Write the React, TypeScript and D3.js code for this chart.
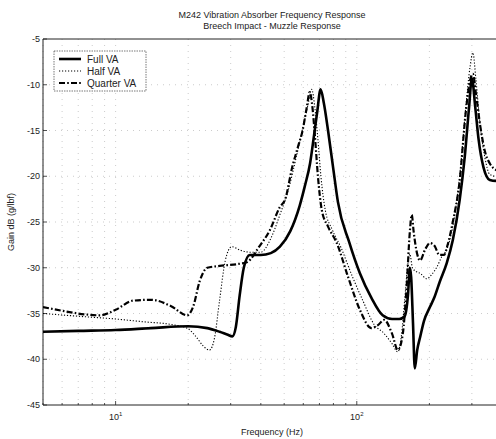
import React from "react";
import * as d3 from "d3";

const fullFreq = [5, 7, 10, 14, 20, 24, 27, 29, 30.5, 31.5, 32.7, 34, 36, 40, 44, 48, 53, 58, 61, 64, 66.5, 68.5, 70.8, 73, 76, 80, 83.5, 93, 103, 115, 128, 140, 150, 158, 163, 166, 168, 171, 174, 178, 183, 190, 201, 210, 221, 236, 250, 267, 280, 292, 300, 310, 320, 335, 356, 377, 400];
const fullGain = [-37, -36.9, -36.8, -36.6, -36.4, -36.6, -37, -37.3, -37.5, -36.5, -33, -30, -28.6, -28.6, -28.4, -27.7, -26, -23.2, -21, -18.6, -15.5, -13, -10.5, -12, -15, -19.3, -22.8, -27.2, -30.6, -33.3, -35.2, -35.6, -35.6, -35.3, -33, -30, -31, -36, -41, -39, -37.6, -35.8, -34.3, -33.2, -31.5, -29.5, -27, -22.6, -18, -12.5, -9.3, -12.5, -16, -19, -20.4, -20.5, -20.2];

const halfFreq = [5, 7, 10, 13, 17, 19.8, 21.5, 23, 24.5, 25.7, 27, 28.5, 30.3, 33, 36, 40, 44, 48, 52, 56, 60, 63, 65, 67, 69, 71, 74, 79, 86, 96, 106, 118, 130, 140, 148, 153, 158, 163, 166, 170, 176, 183, 195, 205, 215, 225, 236, 250, 267, 283, 295, 303, 312, 325, 340, 356, 377, 400];
const halfGain = [-35, -35.3, -35.6, -35.9, -36.2, -36.6, -37.5, -38.5, -39, -37.7, -33.5, -29.2, -27.7, -28.1, -28.3, -28.3, -26.8, -24.2, -21.5, -18, -14.5, -12, -10.5, -12.5, -16, -20, -23.7, -25.8, -27.8, -31, -33.6, -36.2, -37.2, -38.3, -39.2, -37.5, -33.5, -29.5, -28.5, -30, -30.4, -30.6, -31.2, -30.7, -29.9, -28.8, -28, -25.5, -20, -12.5, -8, -6.5, -9.5, -14.5, -18, -19.8, -20, -19.8];

const quarterFreq = [5, 6, 7.5, 8.6, 10, 11.8, 14, 17, 19.8, 21, 22.3, 24, 27, 32, 35, 39.6, 43.6, 47.9, 50.5, 54, 57, 59.6, 62, 63.8, 65.5, 67, 69, 71.6, 76, 82.6, 92, 103, 115, 122, 130, 140, 148, 155, 161, 166, 169, 172, 178, 183, 192, 201, 210, 220, 230, 238, 250, 267, 283, 295, 303, 312, 325, 340, 356, 377, 400];
const quarterGain = [-34.3, -34.7, -35.1, -35.2, -34.6, -33.6, -33.5, -34.2, -35.2, -34.2, -31.5, -30, -29.8, -29.6, -29.4, -27.6, -25.9, -23.4, -22.5, -19, -16.8, -15, -12.5, -10.8, -12.5, -15.5, -20, -23.7, -25.5, -27.3, -31, -34.6, -36.6, -36.3, -35.7, -37.2, -39, -37.3, -32, -26, -24.2, -26, -28.5, -29.2, -28, -27.3, -27.6, -28.6, -28.6, -27.5, -25, -20.5, -13, -9.5, -8.8, -11, -14.5, -17.3, -18.6, -19.3, -19.5];

const yTicks = [-5, -10, -15, -20, -25, -30, -35, -40, -45];
const xMajor = [10, 100];
const legendLabels = ["Full VA", "Half VA", "Quarter VA"];

const W = 496, H = 439;
const L = 43, R = 502, T = 39, B = 405;
const FONT = "'Liberation Sans', Arial, sans-serif";

export default function App() {
  const x = d3.scaleLog().domain([5, 400]).range([L, R]);
  const y = d3.scaleLinear().domain([-45, -5]).range([B, T]);

  const minor: number[] = [];
  [1, 10, 100].forEach((d) => {
    for (let k = 1; k <= 9; k++) {
      const v = d * k;
      if (v >= 5 && v <= 400) minor.push(v);
    }
  });

  const mk = (fs: number[], gs: number[]) =>
    d3.line<number>().x((_, i) => x(fs[i])).y((g) => y(g)).curve(d3.curveMonotoneX)(gs) || "";

  const series = [
    { d: mk(fullFreq, fullGain), w: 2.6, dash: undefined as string | undefined },
    { d: mk(halfFreq, halfGain), w: 1.1, dash: "1.2,1.8" },
    { d: mk(quarterFreq, quarterGain), w: 2.2, dash: "6,2.2,1.6,2.2" },
  ];

  return (
    <svg width={W} height={H} style={{ position: "absolute", left: 0, top: 0, background: "#fff" }}>
      <defs>
        <clipPath id="plot">
          <rect x={L} y={T} width={R - L} height={B - T} />
        </clipPath>
      </defs>
      <rect x={0} y={0} width={W} height={H} fill="#fff" />
      {/* grid */}
      {minor.map((v) => (
        <line key={"gx" + v} x1={x(v)} x2={x(v)} y1={T} y2={B} stroke="#aaa" strokeWidth={0.6} strokeDasharray="1,5" />
      ))}
      {yTicks.slice(1, -1).map((v) => (
        <line key={"gy" + v} x1={L} x2={R} y1={y(v)} y2={y(v)} stroke="#aaa" strokeWidth={0.6} strokeDasharray="1,5" />
      ))}
      {/* axes frame */}
      <line x1={L} x2={R} y1={T} y2={T} stroke="#222" strokeWidth={1} />
      <line x1={L} x2={R} y1={B} y2={B} stroke="#222" strokeWidth={1} />
      <line x1={L} x2={L} y1={T} y2={B} stroke="#222" strokeWidth={1} />
      {yTicks.map((v) => (
        <g key={"yt" + v}>
          <line x1={L} x2={L + 4} y1={y(v)} y2={y(v)} stroke="#222" strokeWidth={0.8} />
          <text x={L - 3} y={y(v) + 3} fontSize={9} fontFamily={FONT} textAnchor="end" fill="#222">{v}</text>
        </g>
      ))}
      {minor.map((v) => (
        <line key={"xt" + v} x1={x(v)} x2={x(v)} y1={B} y2={B - (xMajor.includes(v) ? 4 : 2)} stroke="#222" strokeWidth={0.8} />
      ))}
      {xMajor.map((v, i) => (
        <text key={"xl" + v} x={x(v)} y={B + 15} fontSize={9} fontFamily={FONT} textAnchor="middle" fill="#222">
          10<tspan dy={-4} fontSize={6}>{i + 1}</tspan>
        </text>
      ))}
      {/* series */}
      <g clipPath="url(#plot)">
        {series.map((s, i) => (
          <path key={i} d={s.d} fill="none" stroke="#000" strokeWidth={s.w} strokeDasharray={s.dash} strokeLinejoin="round" />
        ))}
      </g>
      {/* legend */}
      <rect x={54} y={51} width={92} height={40} fill="#fff" stroke="#555" strokeWidth={0.8} strokeDasharray="1.5,1" />
      {legendLabels.map((lab, i) => {
        const ly = 59 + i * 12;
        const s = series[i];
        return (
          <g key={lab}>
            <line x1={59} x2={81} y1={ly} y2={ly} stroke="#000" strokeWidth={s.w} strokeDasharray={s.dash} />
            <text x={87} y={ly + 3.5} fontSize={10} fontFamily={FONT} fill="#222">{lab}</text>
          </g>
        );
      })}
      {/* titles */}
      <text x={272} y={18} fontSize={9} fontFamily={FONT} textAnchor="middle" fill="#222">M242 Vibration Absorber Frequency Response</text>
      <text x={272} y={29} fontSize={9} fontFamily={FONT} textAnchor="middle" fill="#222">Breech Impact - Muzzle Response</text>
      <text x={272} y={435} fontSize={9} fontFamily={FONT} textAnchor="middle" fill="#222">Frequency (Hz)</text>
      <text transform={`translate(14,222) rotate(-90)`} fontSize={9} fontFamily={FONT} textAnchor="middle" fill="#222">Gain dB (g/lbf)</text>
    </svg>
  );
}
